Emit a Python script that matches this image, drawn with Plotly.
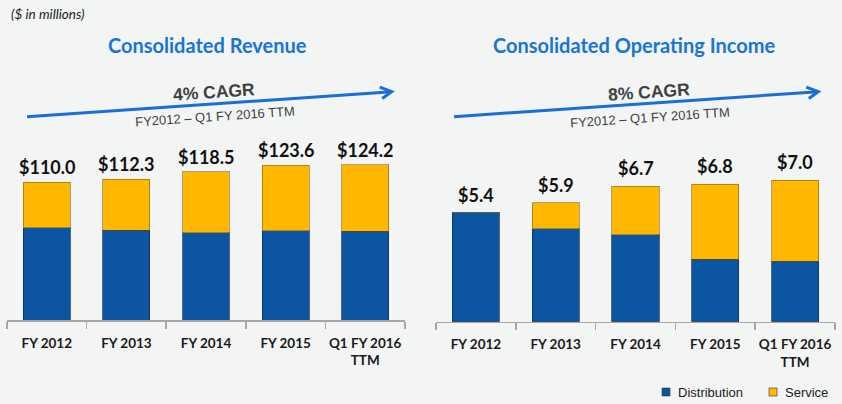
import plotly.graph_objects as go

# ---------------- data ----------------
categories = ["FY 2012", "FY 2013", "FY 2014", "FY 2015", "Q1 FY 2016<br>TTM"]

revenue_distribution = [73.7, 71.6, 69.8, 71.4, 70.8]
revenue_service = [36.3, 40.7, 48.7, 52.2, 53.4]
revenue_totals = [110.0, 112.3, 118.5, 123.6, 124.2]

opinc_distribution = [5.4, 4.6, 4.3, 3.1, 3.0]
opinc_service = [0.0, 1.3, 2.4, 3.7, 4.0]
opinc_totals = [5.4, 5.9, 6.7, 6.8, 7.0]

# ---------------- style ----------------
W, H = 842, 404
BG = "#f3f4f4"
BLUE = "#0b55a3"
GOLD = "#ffb700"
TITLE_BLUE = "#1874d6"
ARROW_BLUE = "#1a6fd6"
GRAY_TXT = "#404040"
AXIS_GRAY = "#a6a6a6"
NUM_FONT = "Lato"


def px(x):
    return max(0.0, x / W)


def py(y):
    return 1 - y / H


fig = go.Figure()

fig.add_trace(go.Bar(x=categories, y=revenue_distribution, name="Distribution",
                     marker=dict(color=BLUE, line=dict(color="rgba(20,40,70,0.7)", width=1)),
                     xaxis="x", yaxis="y", showlegend=False))
fig.add_trace(go.Bar(x=categories, y=revenue_service, name="Service",
                     marker=dict(color=GOLD, line=dict(color="rgba(120,90,20,0.55)", width=1)),
                     xaxis="x", yaxis="y", showlegend=False))
fig.add_trace(go.Bar(x=categories, y=opinc_distribution, name="Distribution",
                     marker=dict(color=BLUE, line=dict(color="rgba(20,40,70,0.7)", width=1)),
                     xaxis="x2", yaxis="y2", showlegend=False))
fig.add_trace(go.Bar(x=categories, y=opinc_service, name="Service",
                     marker=dict(color=GOLD, line=dict(color="rgba(120,90,20,0.55)", width=1)),
                     xaxis="x2", yaxis="y2", showlegend=False))

xaxis_common = dict(
    type="category", range=[-0.5, 4.5], showline=True, linecolor=AXIS_GRAY, linewidth=1.5,
    ticks="outside", tickson="boundaries", ticklen=7, tickcolor=AXIS_GRAY, tickwidth=1.5,
    showgrid=False, zeroline=False, fixedrange=True, tickangle=0,
    tickfont=dict(family=NUM_FONT, size=13.5, color="#1a1a1a", weight=700),
    ticklabelstandoff=10,
)

annotations = []
shapes = []

# value labels
for c, v in zip(categories, revenue_totals):
    annotations.append(dict(x=c, y=v, xref="x", yref="y", text=f"${v:.1f}", showarrow=False,
                            xanchor="center", yanchor="bottom", yshift=2,
                            font=dict(family=NUM_FONT, size=18, color="#111111", weight=700)))
for c, v in zip(categories, opinc_totals):
    annotations.append(dict(x=c, y=v, xref="x2", yref="y2", text=f"${v:.1f}", showarrow=False,
                            xanchor="center", yanchor="bottom", yshift=5,
                            font=dict(family=NUM_FONT, size=18, color="#111111", weight=700)))

# header texts
annotations.append(dict(x=px(9), y=py(14), xref="paper", yref="paper", xanchor="left", yanchor="middle",
                        text="<i>($ in millions)</i>", showarrow=False,
                        font=dict(family=NUM_FONT, size=13.5, color="#1a1a1a")))
annotations.append(dict(x=px(207), y=py(45), xref="paper", yref="paper", text="Consolidated Revenue",
                        xanchor="center", yanchor="middle", showarrow=False,
                        font=dict(family=NUM_FONT, size=20, color=TITLE_BLUE, weight=700)))
annotations.append(dict(x=px(634), y=py(45), xref="paper", yref="paper", text="Consolidated Operating Income",
                        xanchor="center", yanchor="middle", showarrow=False,
                        font=dict(family=NUM_FONT, size=20, color=TITLE_BLUE, weight=700)))

# CAGR arrows
arrows = [
    dict(tail=(27, 116.7), tip=(391.7, 91.7), label="4% CAGR", lab=(214, 92.5), sub=(215, 116)),
    dict(tail=(454, 116.7), tip=(818.3, 91.7), label="8% CAGR", lab=(649, 92), sub=(650, 117)),
]
for a in arrows:
    (x0, y0), (x1, y1) = a["tail"], a["tip"]
    shapes.append(dict(type="line", xref="paper", yref="paper", x0=px(x0), y0=py(y0), x1=px(x1), y1=py(y1),
                       line=dict(color=ARROW_BLUE, width=3)))
    path = (f"M {px(x1-12):.5f},{py(y1-4.5):.5f} L {px(x1):.5f},{py(y1):.5f} "
            f"L {px(x1-9.5):.5f},{py(y1+6.8):.5f}")
    shapes.append(dict(type="path", xref="paper", yref="paper", path=path,
                       line=dict(color=ARROW_BLUE, width=3)))
    annotations.append(dict(x=px(a["lab"][0]), y=py(a["lab"][1]), xref="paper", yref="paper",
                            xanchor="center", yanchor="middle",
                            text=a["label"], showarrow=False, textangle=-3.9,
                            font=dict(family="Liberation Sans", size=17.5, color=GRAY_TXT, weight=700)))
    annotations.append(dict(x=px(a["sub"][0]), y=py(a["sub"][1]), xref="paper", yref="paper",
                            xanchor="center", yanchor="middle",
                            text="FY2012 \u2013 Q1 FY 2016 TTM", showarrow=False, textangle=-3.9,
                            font=dict(family="Liberation Sans", size=13, color=GRAY_TXT)))

# legend (manual)
legend_items = [("Distribution", BLUE, 662), ("Service", GOLD, 769)]
for name, col, lx in legend_items:
    shapes.append(dict(type="rect", xref="paper", yref="paper", x0=px(lx), x1=px(lx + 8),
                       y0=py(396), y1=py(388), fillcolor=col, line=dict(color="#333333", width=0.6)))
    annotations.append(dict(x=px(lx + 14), y=py(392), xref="paper", yref="paper", xanchor="left",
                            yanchor="middle", text=name, showarrow=False,
                            font=dict(family="Liberation Sans", size=13, color="#1a1a1a")))

fig.update_layout(
    width=W, height=H,
    margin=dict(l=0, r=0, t=0, b=0),
    paper_bgcolor=BG, plot_bgcolor=BG,
    barmode="stack", bargap=0.41,
    xaxis=dict(domain=[px(7), px(405)], anchor="y", **xaxis_common),
    yaxis=dict(domain=[py(320), py(140)], range=[0, 143.8], visible=False, fixedrange=True),
    xaxis2=dict(domain=[px(436), px(835)], anchor="y2", **xaxis_common),
    yaxis2=dict(domain=[py(321.7), py(140)], range=[0, 9.0], visible=False, fixedrange=True),
    annotations=annotations, shapes=shapes,
    showlegend=False,
)

fig.write_html(
    "out.html",
    config={"displayModeBar": False, "staticPlot": True},
    post_script="document.body.style.margin='0';document.body.style.overflow='hidden';"
                "document.body.style.background='" + BG + "';",
)
